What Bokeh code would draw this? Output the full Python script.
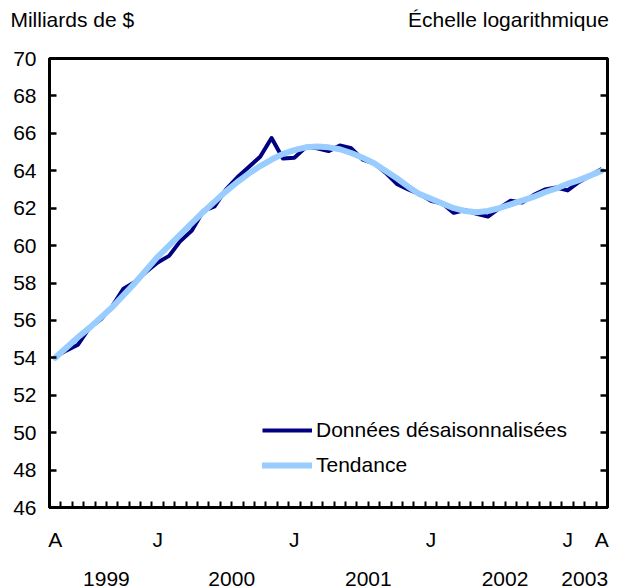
from bokeh.plotting import figure
from bokeh.models import LinearAxis, FixedTicker, Range1d, Legend, LegendItem
from bokeh.embed import file_html
from bokeh.resources import INLINE

# Monthly, April 1999 .. April 2003 (49 months)
month_index = list(range(49))
desaisonnalisees = [54.05, 54.4, 54.7, 55.6, 56.05, 56.75, 57.7, 58.05, 58.6, 59.1,
                    59.45, 60.25, 60.8, 61.85, 62.1, 63.0, 63.65, 64.2, 64.75, 65.75,
                    64.65, 64.7, 65.25, 65.2, 65.05, 65.35, 65.2, 64.6, 64.4, 63.9,
                    63.3, 63.0, 62.75, 62.4, 62.25, 61.75, 61.9, 61.7, 61.55, 62.0,
                    62.4, 62.3, 62.7, 63.0, 63.1, 62.95, 63.4, 63.75, 64.1]
tendance = [54.0, 54.55, 55.1, 55.6, 56.15, 56.7, 57.35, 58.0, 58.7, 59.4,
            60.0, 60.6, 61.2, 61.8, 62.35, 62.9, 63.4, 63.85, 64.25, 64.6,
            64.9, 65.1, 65.25, 65.3, 65.25, 65.15, 64.95, 64.7, 64.4, 64.0,
            63.6, 63.15, 62.75, 62.5, 62.25, 62.0, 61.85, 61.78, 61.85, 62.0,
            62.2, 62.4, 62.6, 62.85, 63.05, 63.3, 63.5, 63.75, 64.0]

y_ticks = list(range(46, 71, 2))
month_label_pos = [0, 9, 21, 33, 45, 48]
month_labels = ["A", "J", "J", "J", "J", "A"]
year_label_pos = [4.5, 15.5, 27.5, 39.5, 46.5]
year_labels = ["1999", "2000", "2001", "2002", "2003"]
header_pos = [1.5, 39.8]
header_labels = ["Milliards de $", "Échelle logarithmique"]

FONT = "Liberation Sans"
FS = "21px"

p = figure(width=621, height=588, output_backend="svg", toolbar_location=None,
           x_range=Range1d(-0.5, 48.5), y_range=Range1d(46, 70),
           x_axis_type=None, y_axis_type=None,
           min_border_left=49, min_border_right=14, min_border_top=58, min_border_bottom=81)
p.grid.visible = False
p.outline_line_color = "black"
p.outline_line_width = 3
p.background_fill_color = "white"
p.border_fill_color = "white"

r1 = p.line(month_index, desaisonnalisees, line_color="#000080", line_width=4, line_join="round")
r2 = p.line(month_index, tendance, line_color="#99CCFF", line_width=6, line_join="round", line_cap="round")

# left axis
yl = LinearAxis(ticker=FixedTicker(ticks=y_ticks, minor_ticks=[]))
yl.axis_line_width = 3
yl.major_tick_in = 7
yl.major_tick_out = 0
yl.major_tick_line_width = 2.5
yl.minor_tick_line_color = None
yl.major_label_standoff = 13
yl.major_label_text_font = FONT
yl.major_label_text_font_size = FS
yl.major_label_text_color = "black"
p.add_layout(yl, "left")

# right axis (ticks only)
yr = LinearAxis(ticker=FixedTicker(ticks=y_ticks, minor_ticks=[]))
yr.axis_line_width = 3
yr.major_tick_in = 7
yr.major_tick_out = 0
yr.major_tick_line_width = 2.5
yr.minor_tick_line_color = None
yr.major_label_standoff = 0
yr.major_label_text_font_size = "0px"
yr.major_label_text_alpha = 0
p.add_layout(yr, "right")

# top "axis" used for the two header texts
xt = LinearAxis(ticker=FixedTicker(ticks=header_pos, minor_ticks=[]))
xt.axis_line_color = None
xt.major_tick_line_color = None
xt.minor_tick_line_color = None
xt.major_label_standoff = 22
xt.major_label_overrides = {pos: lab for pos, lab in zip(header_pos, header_labels)}
xt.major_label_text_font = FONT
xt.major_label_text_font_size = FS
xt.major_label_text_color = "black"
p.add_layout(xt, "above")

# bottom axis: month ticks + month letters
xb = LinearAxis(ticker=FixedTicker(ticks=month_label_pos,
                                   minor_ticks=[k + 0.5 for k in range(48)]))
xb.axis_line_width = 3
xb.major_tick_in = 0
xb.major_tick_out = 0
xb.minor_tick_in = 6
xb.minor_tick_out = 0
xb.minor_tick_line_width = 2
xb.major_label_standoff = 20
xb.major_label_overrides = {pos: lab for pos, lab in zip(month_label_pos, month_labels)}
xb.major_label_text_font = FONT
xb.major_label_text_font_size = FS
xb.major_label_text_color = "black"
p.add_layout(xb, "below")

# bottom axis: years
xy = LinearAxis(ticker=FixedTicker(ticks=year_label_pos, minor_ticks=[]))
xy.axis_line_color = None
xy.major_tick_line_color = None
xy.minor_tick_line_color = None
xy.major_label_standoff = 12
xy.major_label_overrides = {pos: lab for pos, lab in zip(year_label_pos, year_labels)}
xy.major_label_text_font = FONT
xy.major_label_text_font_size = FS
xy.major_label_text_color = "black"
p.add_layout(xy, "below")

legend = Legend(items=[LegendItem(label="Données désaisonnalisées", renderers=[r1]),
                       LegendItem(label="Tendance", renderers=[r2])],
                location=(213, 30))
legend.padding = 0
legend.margin = 0
legend.border_line_color = None
legend.background_fill_alpha = 0
legend.glyph_width = 50
legend.glyph_height = 24
legend.label_height = 24
legend.spacing = 11
legend.label_standoff = 4
legend.label_text_font = FONT
legend.label_text_font_size = FS
legend.label_text_color = "black"
p.add_layout(legend, "center")

open("out.html", "w").write(file_html(p, INLINE))
